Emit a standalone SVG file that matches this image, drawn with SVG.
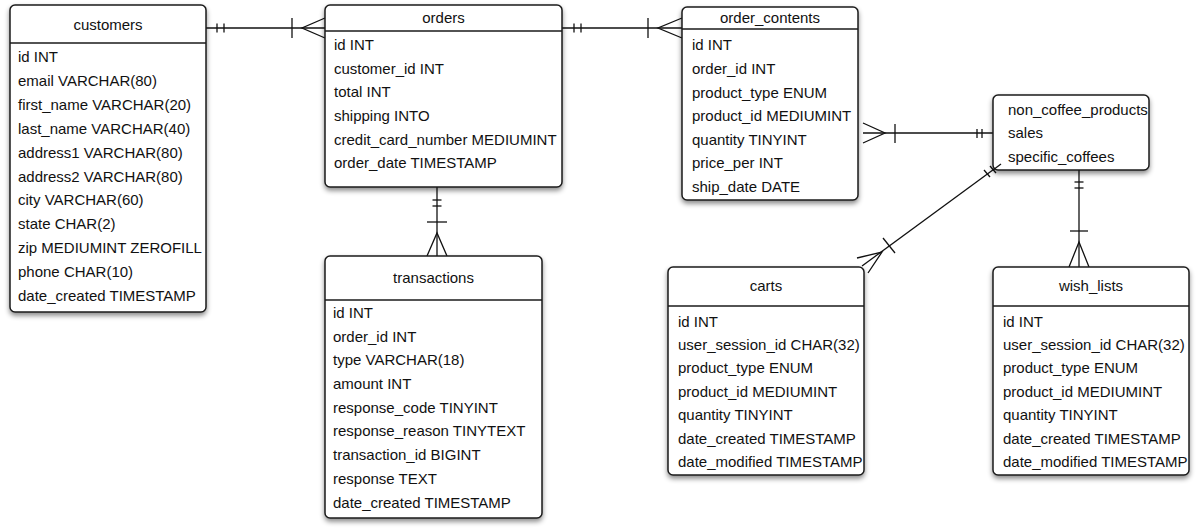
<svg xmlns="http://www.w3.org/2000/svg" width="1200" height="532" viewBox="0 0 1200 532">
<defs>
<filter id="sh" x="-10%" y="-10%" width="120%" height="125%">
<feDropShadow dx="0" dy="3" stdDeviation="2.5" flood-color="#000" flood-opacity="0.45"/>
</filter>
<style>
.box{fill:#fff;stroke:#1a1a1a;stroke-width:1.5}
.sep{stroke:#1a1a1a;stroke-width:1.3}
text{font-family:"Liberation Sans",Arial,Helvetica,sans-serif;font-size:15px;fill:#111}
.h{text-anchor:middle}
.c line,.c path{stroke:#111;stroke-width:1.3;fill:none}
</style>
</defs>
<rect width="1200" height="532" fill="#fff"/>

<g id="connectors" class="c">
<!-- customers - orders -->
<line x1="206" y1="28" x2="325" y2="28"/>
<line x1="217" y1="23.5" x2="217" y2="32.5"/>
<line x1="224" y1="23.5" x2="224" y2="32.5"/>
<line x1="292" y1="18" x2="292" y2="38"/>
<path d="M325 18 L302 28 L325 38"/>
<!-- orders - order_contents -->
<line x1="562" y1="28" x2="682" y2="28"/>
<line x1="574" y1="23.5" x2="574" y2="32.5"/>
<line x1="581" y1="23.5" x2="581" y2="32.5"/>
<line x1="648" y1="18" x2="648" y2="38"/>
<path d="M682 18 L658 28 L682 38"/>
<!-- orders - transactions -->
<line x1="437" y1="187" x2="437" y2="256"/>
<line x1="432.5" y1="200" x2="441.5" y2="200"/>
<line x1="432.5" y1="206" x2="441.5" y2="206"/>
<line x1="427" y1="222" x2="447" y2="222"/>
<path d="M427 256 L437 233 L447 256"/>
<!-- order_contents - products -->
<line x1="863" y1="133" x2="993" y2="133"/>
<path d="M863 123 L885 133 L863 143"/>
<line x1="895" y1="124" x2="895" y2="143"/>
<line x1="977" y1="129" x2="977" y2="138"/>
<line x1="982" y1="129" x2="982" y2="138"/>
<!-- products - carts -->
<line x1="1001" y1="164" x2="862" y2="266"/>
<path d="M857 258 L882 252 L868 273"/>
<line x1="883" y1="238" x2="895" y2="253"/>
<line x1="984" y1="170" x2="990" y2="177"/>
<line x1="990" y1="166" x2="996" y2="173"/>
<!-- products - wish_lists -->
<line x1="1079" y1="170" x2="1079" y2="267"/>
<line x1="1074.5" y1="182" x2="1083.5" y2="182"/>
<line x1="1074.5" y1="188" x2="1083.5" y2="188"/>
<line x1="1070" y1="231" x2="1088" y2="231"/>
<path d="M1069 267 L1079 242 L1089 267"/>
</g>

<g id="customers">
<rect class="box" x="10" y="5" width="196" height="307" rx="5" filter="url(#sh)"/>
<line class="sep" x1="10" y1="43" x2="206" y2="43"/>
<text class="h" x="108" y="30">customers</text>
<text x="18" y="62">id INT</text>
<text x="18" y="86">email VARCHAR(80)</text>
<text x="18" y="110">first_name VARCHAR(20)</text>
<text x="18" y="134">last_name VARCHAR(40)</text>
<text x="18" y="158">address1 VARCHAR(80)</text>
<text x="18" y="182">address2 VARCHAR(80)</text>
<text x="18" y="205">city VARCHAR(60)</text>
<text x="18" y="229">state CHAR(2)</text>
<text x="18" y="253">zip MEDIUMINT ZEROFILL</text>
<text x="18" y="277">phone CHAR(10)</text>
<text x="18" y="301">date_created TIMESTAMP</text>
</g>

<g id="orders">
<rect class="box" x="325" y="5" width="237" height="182" rx="5" filter="url(#sh)"/>
<line class="sep" x1="325" y1="31" x2="562" y2="31"/>
<text class="h" x="443.5" y="23">orders</text>
<text x="334" y="50">id INT</text>
<text x="334" y="74">customer_id INT</text>
<text x="334" y="97">total INT</text>
<text x="334" y="121">shipping INTO</text>
<text x="334" y="145">credit_card_number MEDIUMINT</text>
<text x="334" y="168">order_date TIMESTAMP</text>
</g>

<g id="order_contents">
<rect class="box" x="682" y="7" width="176" height="193" rx="5" filter="url(#sh)"/>
<line class="sep" x1="682" y1="29" x2="858" y2="29"/>
<text class="h" x="770" y="23">order_contents</text>
<text x="692" y="50">id INT</text>
<text x="692" y="74">order_id INT</text>
<text x="692" y="98">product_type ENUM</text>
<text x="692" y="121">product_id MEDIUMINT</text>
<text x="692" y="145">quantity TINYINT</text>
<text x="692" y="168">price_per INT</text>
<text x="692" y="192">ship_date DATE</text>
</g>

<g id="products">
<rect class="box" x="993" y="95" width="156" height="75" rx="5" filter="url(#sh)"/>
<text x="1008" y="115">non_coffee_products</text>
<text x="1008" y="138">sales</text>
<text x="1008" y="162">specific_coffees</text>
</g>

<g id="transactions">
<rect class="box" x="325" y="256" width="217" height="262" rx="5" filter="url(#sh)"/>
<line class="sep" x1="325" y1="300" x2="542" y2="300"/>
<text class="h" x="433.5" y="283">transactions</text>
<text x="333" y="318">id INT</text>
<text x="333" y="342">order_id INT</text>
<text x="333" y="365">type VARCHAR(18)</text>
<text x="333" y="389">amount INT</text>
<text x="333" y="413">response_code TINYINT</text>
<text x="333" y="436">response_reason TINYTEXT</text>
<text x="333" y="460">transaction_id BIGINT</text>
<text x="333" y="484">response TEXT</text>
<text x="333" y="508">date_created TIMESTAMP</text>
</g>

<g id="carts">
<rect class="box" x="668" y="267" width="196" height="208" rx="5" filter="url(#sh)"/>
<line class="sep" x1="668" y1="306" x2="864" y2="306"/>
<text class="h" x="766" y="291">carts</text>
<text x="678" y="327">id INT</text>
<text x="678" y="350">user_session_id CHAR(32)</text>
<text x="678" y="373">product_type ENUM</text>
<text x="678" y="397">product_id MEDIUMINT</text>
<text x="678" y="420">quantity TINYINT</text>
<text x="678" y="444">date_created TIMESTAMP</text>
<text x="678" y="467">date_modified TIMESTAMP</text>
</g>

<g id="wish_lists">
<rect class="box" x="993" y="267" width="196" height="208" rx="5" filter="url(#sh)"/>
<line class="sep" x1="993" y1="306" x2="1189" y2="306"/>
<text class="h" x="1091" y="291">wish_lists</text>
<text x="1003" y="327">id INT</text>
<text x="1003" y="350">user_session_id CHAR(32)</text>
<text x="1003" y="373">product_type ENUM</text>
<text x="1003" y="397">product_id MEDIUMINT</text>
<text x="1003" y="420">quantity TINYINT</text>
<text x="1003" y="444">date_created TIMESTAMP</text>
<text x="1003" y="467">date_modified TIMESTAMP</text>
</g>

<g id="overlay" class="c">
<line x1="993" y1="169.9" x2="1001" y2="164"/>
</g>
</svg>
